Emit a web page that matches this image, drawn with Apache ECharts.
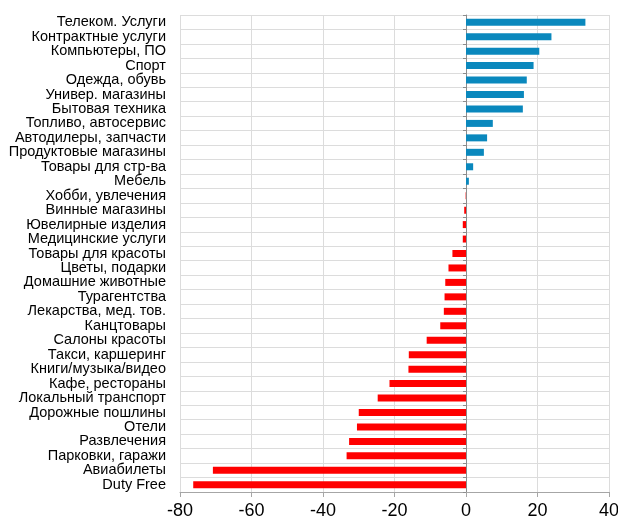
<!DOCTYPE html>
<html>
<head>
<meta charset="utf-8">
<script src="https://cdn.jsdelivr.net/npm/echarts@6/dist/echarts.min.js"></script>
<style>
  html, body { margin: 0; padding: 0; background: #fff; }
  #chart { width: 618px; height: 518px; }
</style>
</head>
<body>
<div id="chart"></div>
<script>
  // категории сверху вниз
  var categories = [
    'Телеком. Услуги', 'Контрактные услуги', 'Компьютеры, ПО', 'Спорт',
    'Одежда, обувь', 'Универ. магазины', 'Бытовая техника', 'Топливо, автосервис',
    'Автодилеры, запчасти', 'Продуктовые магазины', 'Товары для стр-ва', 'Мебель',
    'Хобби, увлечения', 'Винные магазины', 'Ювелирные изделия', 'Медицинские услуги',
    'Товары для красоты', 'Цветы, подарки', 'Домашние животные', 'Турагентства',
    'Лекарства, мед. тов.', 'Канцтовары', 'Салоны красоты', 'Такси, каршеринг',
    'Книги/музыка/видео', 'Кафе, рестораны', 'Локальный транспорт', 'Дорожные пошлины',
    'Отели', 'Развлечения', 'Парковки, гаражи', 'Авиабилеты', 'Duty Free'
  ];
  var values = [
    33.4, 23.9, 20.5, 18.9,
    17.0, 16.2, 15.9, 7.5,
    5.9, 5.0, 2.0, 0.8,
    -0.1, -0.5, -0.9, -0.9,
    -3.8, -4.9, -5.8, -6.0,
    -6.2, -7.2, -11.0, -16.0,
    -16.1, -21.4, -24.7, -30.0,
    -30.5, -32.7, -33.4, -70.8, -76.3
  ];
  var xTicks = { min: -80, max: 40, step: 20 };

  var posColor = '#0a88bd';
  var negColor = '#ff0000';
  var gridColor = '#dcdcdc';

  var myChart = echarts.init(document.getElementById('chart'));

  var option = {
    animation: false,
    // не сжимать сетку под подписи — "40" упирается в край, как в оригинале
    grid: { left: 180, right: 9, top: 15, bottom: 26, outerBoundsMode: 'none' },
    xAxis: {
      type: 'value',
      min: xTicks.min,
      max: xTicks.max,
      interval: xTicks.step,
      axisLine: { show: true, onZero: false, lineStyle: { color: '#a6a6a6' } },
      axisTick: { show: true, length: 5, lineStyle: { color: '#a6a6a6' } },
      axisLabel: { color: '#000', fontSize: 18, fontFamily: 'Liberation Sans', margin: 10 },
      splitLine: { show: true, lineStyle: { color: gridColor } }
    },
    yAxis: [
      {
        // подписи категорий слева
        type: 'category',
        inverse: true,
        data: categories,
        position: 'left',
        axisLine: { show: false, onZero: false },
        axisTick: { show: false },
        axisLabel: { interval: 0, color: '#000', fontSize: 14.5, fontFamily: 'Liberation Sans', margin: 14 },
        splitLine: { show: true, interval: 0, lineStyle: { color: gridColor } }
      },
      {
        // линия нуля с засечками
        type: 'category',
        inverse: true,
        data: categories,
        position: 'left',
        axisLine: { show: true, onZero: true, lineStyle: { color: '#8c8c8c' } },
        axisTick: { show: true, interval: 0, length: 3, lineStyle: { color: '#8c8c8c' } },
        axisLabel: { show: false },
        splitLine: { show: false }
      }
    ],
    series: [
      {
        type: 'bar',
        yAxisIndex: 0,
        barWidth: 7,
        data: values,
        z: 3,
        itemStyle: {
          color: function (params) {
            return params.value >= 0 ? posColor : negColor;
          }
        }
      }
    ]
  };

  myChart.setOption(option);
</script>
</body>
</html>
